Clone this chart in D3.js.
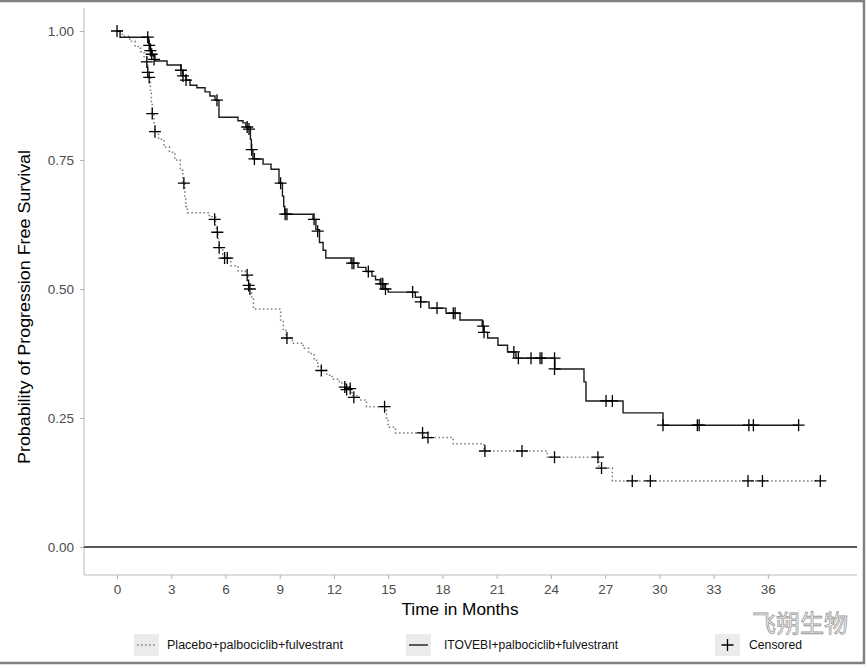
<!DOCTYPE html>
<html><head><meta charset="utf-8">
<script src="https://cdn.jsdelivr.net/npm/d3@7"></script>
<style>html,body{margin:0;padding:0;background:#fff;}svg{display:block;font-family:"Liberation Sans",Arial,sans-serif;}</style>
</head><body>
<svg id="c" width="867" height="665"></svg>
<script>
// ---- data ----
const xTicks = [0,3,6,9,12,15,18,21,24,27,30,33,36];
const yTicks = [0, 0.25, 0.5, 0.75, 1.0];
const seriesNames = ["Placebo+palbociclib+fulvestrant", "ITOVEBI+palbociclib+fulvestrant"];

// ITOVEBI arm: step times and survival after each step
const itoTime = [0, 0.17, 1.75, 1.85, 1.95, 2.1, 2.77, 3.54, 3.65, 3.82, 4.04, 4.42, 4.87, 5.14, 5.42, 5.64, 6.69, 6.97, 7.13, 7.38, 7.43, 7.52, 8.08, 8.52, 8.96, 9.15, 9.22, 9.28, 10.84, 11.0, 11.2, 11.4, 11.55, 12.94, 13.33, 13.77, 14.1, 14.3, 14.55, 14.77, 15.0, 16.5, 16.8, 17.26, 18.2, 18.97, 20.2, 20.3, 20.5, 21.07, 21.6, 22.07, 24.22, 25.83, 25.94, 27.99, 30.2, 37.7];
const itoSurv = [1.0, 0.988, 0.975, 0.962, 0.952, 0.942, 0.934, 0.924, 0.913, 0.905, 0.895, 0.89, 0.882, 0.874, 0.866, 0.833, 0.826, 0.822, 0.814, 0.79, 0.77, 0.752, 0.742, 0.732, 0.705, 0.68, 0.66, 0.645, 0.635, 0.615, 0.59, 0.575, 0.56, 0.55, 0.542, 0.534, 0.525, 0.518, 0.51, 0.5, 0.494, 0.484, 0.475, 0.463, 0.453, 0.44, 0.428, 0.416, 0.405, 0.391, 0.378, 0.366, 0.345, 0.32, 0.283, 0.26, 0.236, 0.236];
const itoCensTime = [0, 1.7, 1.78, 1.85, 1.92, 2.05, 3.54, 3.65, 3.82, 5.53, 7.2, 7.3, 7.45, 7.6, 9.05, 9.3, 9.4, 10.9, 11.1, 13.0, 13.1, 13.9, 14.6, 14.7, 14.85, 16.35, 16.8, 17.7, 18.6, 18.7, 20.25, 20.3, 21.95, 22.2, 22.9, 23.4, 23.5, 24.2, 24.2, 27.05, 27.4, 30.2, 32.1, 32.2, 34.95, 35.2, 37.7];
const itoCensSurv = [1.0, 0.988, 0.972, 0.962, 0.955, 0.945, 0.924, 0.913, 0.905, 0.866, 0.814, 0.81, 0.77, 0.752, 0.705, 0.645, 0.645, 0.635, 0.612, 0.55, 0.55, 0.534, 0.51, 0.51, 0.5, 0.494, 0.475, 0.463, 0.453, 0.453, 0.428, 0.416, 0.378, 0.366, 0.366, 0.366, 0.366, 0.366, 0.345, 0.283, 0.283, 0.236, 0.236, 0.236, 0.236, 0.236, 0.236];

// Placebo arm
const plaTime = [0, 0.3, 0.7, 1.0, 1.3, 1.5, 1.65, 1.7, 1.75, 1.85, 1.9, 1.95, 2.05, 2.1, 2.3, 2.6, 2.9, 3.2, 3.5, 3.65, 3.75, 3.8, 3.9, 5.1, 5.45, 5.5, 5.6, 5.65, 5.85, 5.95, 6.3, 6.7, 7.1, 7.25, 7.3, 7.45, 7.55, 9.05, 9.2, 9.35, 9.7, 10.3, 10.6, 10.9, 11.1, 11.3, 11.6, 11.9, 12.3, 12.6, 13.0, 13.4, 13.8, 14.9, 15.0, 15.4, 17.0, 18.6, 20.3, 23.8, 26.65, 27.4, 38.9];
const plaSurv = [1.0, 0.99, 0.98, 0.97, 0.96, 0.95, 0.94, 0.92, 0.91, 0.88, 0.86, 0.84, 0.82, 0.805, 0.79, 0.775, 0.765, 0.75, 0.73, 0.705, 0.68, 0.66, 0.648, 0.64, 0.62, 0.61, 0.595, 0.58, 0.567, 0.56, 0.545, 0.535, 0.527, 0.51, 0.5, 0.48, 0.461, 0.44, 0.42, 0.405, 0.395, 0.385, 0.375, 0.362, 0.35, 0.342, 0.333, 0.325, 0.318, 0.31, 0.293, 0.285, 0.272, 0.25, 0.232, 0.221, 0.212, 0.2, 0.186, 0.174, 0.153, 0.128, 0.128];
const plaCensTime = [1.65, 1.7, 1.78, 1.95, 2.1, 3.7, 5.4, 5.55, 5.65, 5.95, 6.1, 7.2, 7.28, 7.35, 9.4, 11.3, 12.6, 12.7, 12.9, 13.1, 14.8, 16.9, 17.2, 20.35, 22.4, 24.2, 26.6, 26.8, 28.5, 29.5, 34.9, 35.7, 38.9];
const plaCensSurv = [0.94, 0.92, 0.91, 0.84, 0.805, 0.705, 0.635, 0.61, 0.58, 0.56, 0.56, 0.527, 0.507, 0.5, 0.405, 0.342, 0.31, 0.305, 0.307, 0.29, 0.272, 0.221, 0.212, 0.186, 0.186, 0.174, 0.174, 0.153, 0.128, 0.128, 0.128, 0.128, 0.128];

// ---- drawing ----
const svg = d3.select("#c");
const W = 867, H = 665;
const P = {l: 84, r: 857, t: 8, b: 575};
const x = d3.scaleLinear().domain([-1.825, 40.93]).range([P.l, P.r]);
const y = d3.scaleLinear().domain([-0.0543, 1.0446]).range([P.b, P.t]);

svg.append("rect").attr("width", W).attr("height", H).attr("fill", "#fff");

// axes
const xAxis = d3.axisBottom(x).tickValues(xTicks).tickFormat(d3.format("d")).tickSize(4).tickSizeOuter(0);
const yAxis = d3.axisLeft(y).tickValues(yTicks).tickFormat(d3.format(".2f")).tickSize(4).tickSizeOuter(0);
const gx = svg.append("g").attr("transform", `translate(0,${P.b})`).call(xAxis);
const gy = svg.append("g").attr("transform", `translate(${P.l},0)`).call(yAxis);
[gx, gy].forEach(g => {
  g.select(".domain").attr("stroke", "#d0d0d0").attr("stroke-width", 1.5);
  g.selectAll(".tick line").attr("stroke", "#b0b0b0").attr("stroke-width", 1);
  g.selectAll(".tick text").attr("fill", "#4d4d4d").attr("font-size", 13.5).attr("font-family", "Liberation Sans, Arial, sans-serif");
});
gx.select(".domain").attr("d", `M${P.l},0H${P.r}`);
gy.select(".domain").attr("d", `M0,${P.t}V${P.b}`);
gx.selectAll(".tick text").attr("dy", "0.9em");
gy.selectAll(".tick text").attr("dx", "-3");

// reference line at 0
svg.append("line").attr("x1", P.l).attr("x2", P.r).attr("y1", y(0)).attr("y2", y(0))
  .attr("stroke", "#222").attr("stroke-width", 1.4);

const line = d3.line().x(d => x(d[0])).y(d => y(d[1])).curve(d3.curveStepAfter);

svg.append("path").datum(d3.zip(plaTime, plaSurv)).attr("d", line)
  .attr("fill", "none").attr("stroke", "#7a7a7a").attr("stroke-width", 1.5).attr("stroke-dasharray", "1.5,2.5");
svg.append("path").datum(d3.zip(itoTime, itoSurv)).attr("d", line)
  .attr("fill", "none").attr("stroke", "#1a1a1a").attr("stroke-width", 1.4);

function cross(g, cx, cy, s) {
  g.append("path").attr("d", `M${cx - s},${cy}H${cx + s}M${cx},${cy - s}V${cy + s}`)
    .attr("stroke", "#000").attr("stroke-width", 1.3).attr("fill", "none");
}
const gc = svg.append("g");
d3.zip(itoCensTime, itoCensSurv).forEach(d => cross(gc, x(d[0]), y(d[1]), 6));
d3.zip(plaCensTime, plaCensSurv).forEach(d => cross(gc, x(d[0]), y(d[1]), 6));

// axis titles
svg.append("text").attr("x", 460).attr("y", 615).attr("text-anchor", "middle")
  .attr("font-size", 16).attr("fill", "#000")
  .attr("textLength", 117).attr("lengthAdjust", "spacingAndGlyphs").text("Time in Months");
svg.append("text").attr("transform", "translate(30,307) rotate(-90)").attr("text-anchor", "middle")
  .attr("font-size", 16).attr("fill", "#000")
  .attr("textLength", 314).attr("lengthAdjust", "spacingAndGlyphs").text("Probability of Progression Free Survival");

// legend
const legY = 645;
const keys = [
  {x: 134, tx: 167, label: seriesNames[0], type: "dot", w: 176},
  {x: 406, tx: 444, label: seriesNames[1], type: "solid", w: 174},
  {x: 715, tx: 749, label: "Censored", type: "cross", w: 53}
];
keys.forEach(k => {
  svg.append("rect").attr("x", k.x).attr("y", legY - 11).attr("width", 25).attr("height", 22).attr("fill", "#ebebeb");
  if (k.type === "dot") {
    svg.append("line").attr("x1", k.x + 3).attr("x2", k.x + 22).attr("y1", legY).attr("y2", legY)
      .attr("stroke", "#7a7a7a").attr("stroke-width", 1.5).attr("stroke-dasharray", "1.5,2.5");
  } else if (k.type === "solid") {
    svg.append("line").attr("x1", k.x + 3).attr("x2", k.x + 22).attr("y1", legY).attr("y2", legY)
      .attr("stroke", "#1a1a1a").attr("stroke-width", 1.4);
  } else {
    cross(svg, k.x + 12.5, legY, 6);
  }
  svg.append("text").attr("x", k.tx).attr("y", legY + 4).attr("font-size", 12.5).attr("fill", "#111")
    .attr("textLength", k.w).attr("lengthAdjust", "spacingAndGlyphs").text(k.label);
});

// watermark
svg.append("text").attr("x", 800).attr("y", 632).attr("text-anchor", "middle")
  .attr("font-family", "Noto Sans CJK SC").attr("font-size", 24).attr("fill", "#fff")
  .attr("stroke", "#9a9a9a").attr("stroke-width", 0.8).text("飞朔生物");

// frame
svg.append("path").attr("d", `M0,1H${W - 3}V${H - 2}H0`).attr("fill", "none").attr("stroke", "#808080").attr("stroke-width", 2.5);
</script>
</body></html>
